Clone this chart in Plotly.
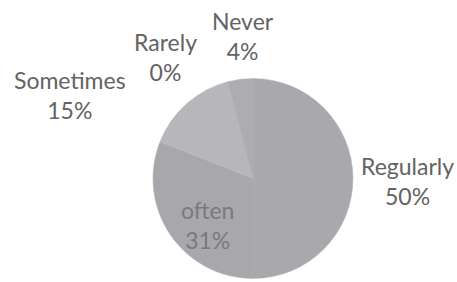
import plotly.graph_objects as go

# Data (clockwise from 12 o'clock)
categories = ["Regularly", "often", "Sometimes", "Rarely", "Never"]
percent_values = [50, 31, 15, 0, 4]

W, H = 457, 282
slice_colors = ["#a9a9ad", "#a8a8ac", "#b7b7bb", "#b2b2b6", "#adadb1"]

fig = go.Figure()
fig.add_trace(go.Pie(
    labels=categories,
    values=percent_values,
    sort=False,
    direction="clockwise",
    rotation=0,
    textinfo="none",
    hoverinfo="label+percent",
    marker=dict(colors=slice_colors, line=dict(color="#b3b3b7", width=0.5)),
    domain=dict(x=[153 / W, 353 / W], y=[1 - 279 / H, 1 - 78 / H]),
    showlegend=False,
))

# Label placement (pixel centres of each label block), layout only
label_pos = {
    "Never": (243, 36),
    "Rarely": (165, 57),
    "Sometimes": (70, 95),
    "Regularly": (407, 181),
    "often": (207, 225),
}
label_colors = {"often": "#7a7a7e"}
for cat, val in zip(categories, percent_values):
    x, y = label_pos[cat]
    fig.add_annotation(
        x=x / W, y=1 - y / H, xref="paper", yref="paper",
        text=f"{cat}<br>{val}%", showarrow=False,
        font=dict(family="Lato", size=23, color=label_colors.get(cat, "#636363")),
        xanchor="center", yanchor="middle", align="center",
    )

fig.update_layout(
    width=W, height=H,
    margin=dict(l=0, r=0, t=0, b=0),
    paper_bgcolor="white", plot_bgcolor="white",
)
fig.write_html("out.html", config={"displayModeBar": False},
               post_script="document.body.style.margin='0';")
